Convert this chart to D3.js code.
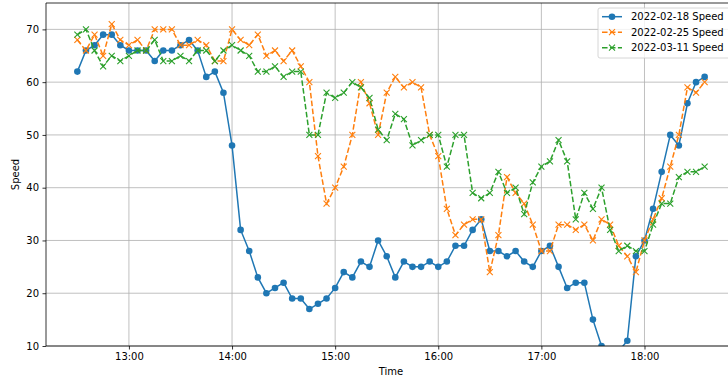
<!DOCTYPE html>
<html>
<head>
<meta charset="utf-8">
<script src="https://cdn.jsdelivr.net/npm/d3@7"></script>
<style>
  html, body { margin: 0; padding: 0; background: #fff; }
  svg { display: block; font-family: "DejaVu Sans", sans-serif; }
</style>
</head>
<body>
<svg id="chart" width="728" height="380"></svg>
<script>
const times = [
  '12:30','12:35','12:40','12:45','12:50','12:55',
  '13:00','13:05','13:10','13:15','13:20','13:25','13:30','13:35','13:40','13:45','13:50','13:55',
  '14:00','14:05','14:10','14:15','14:20','14:25','14:30','14:35','14:40','14:45','14:50','14:55',
  '15:00','15:05','15:10','15:15','15:20','15:25','15:30','15:35','15:40','15:45','15:50','15:55',
  '16:00','16:05','16:10','16:15','16:20','16:25','16:30','16:35','16:40','16:45','16:50','16:55',
  '17:00','17:05','17:10','17:15','17:20','17:25','17:30','17:35','17:40','17:45','17:50','17:55',
  '18:00','18:05','18:10','18:15','18:20','18:25','18:30','18:35'
];

const speed0218 = [
  62,66,67,69,69,67,
  66,66,66,64,66,66,67,68,66,61,62,58,
  48,32,28,23,20,21,22,19,19,17,18,19,
  21,24,23,26,25,30,27,23,26,25,25,26,
  25,26,29,29,32,34,28,28,27,28,26,25,
  28,29,25,21,22,22,15,10,8,9,11,27,
  30,36,43,50,48,56,60,61
];

const speed0225 = [
  68,66,69,65,71,68,
  67,68,66,70,70,70,67,67,68,67,64,64,
  70,68,67,69,65,66,64,66,63,60,46,37,
  40,44,50,60,56,50,58,61,59,60,59,50,
  46,36,31,33,34,34,24,31,42,39,37,33,
  28,28,33,33,32,33,30,34,33,29,27,24,
  30,34,38,44,50,59,58,60
];

const speed0311 = [
  69,70,66,63,65,64,
  65,66,66,68,64,64,65,64,66,66,64,66,
  67,66,65,62,62,63,61,62,62,50,50,58,
  57,58,60,59,57,51,49,54,53,48,49,50,
  50,44,50,50,39,38,39,43,39,40,35,41,
  44,45,49,45,34,39,36,40,32,28,29,28,
  28,33,37,37,42,43,43,44
];

const xTicks = ['13:00','14:00','15:00','16:00','17:00','18:00'];
const yTicks = [10, 20, 30, 40, 50, 60, 70];

(function drawChart() {
  const series = [
    {name: '2022-02-18 Speed', values: speed0218, color: '#1f77b4', dash: null, marker: 'o'},
    {name: '2022-02-25 Speed', values: speed0225, color: '#ff7f0e', dash: '5.55 2.4', marker: 'x'},
    {name: '2022-03-11 Speed', values: speed0311, color: '#2ca02c', dash: '5.55 2.4', marker: 'x'}
  ];

  const parseT = d3.timeParse('%H:%M');
  const tDates = times.map(parseT);

  const pl = 46, pr = 736, pt = 3, pb = 346;
  const svg = d3.select('#chart');

  // matplotlib style 5% margin around the data range
  const t0 = tDates[0], t1 = tDates[tDates.length - 1];
  const pad = (t1 - t0) * 0.05;
  const x = d3.scaleTime()
    .domain([new Date(+t0 - pad), new Date(+t1 + pad)])
    .range([pl, pr]);
  const y = d3.scaleLinear().domain([10, 75]).range([pb, pt]);

  svg.append('defs').append('clipPath').attr('id', 'plotclip')
    .append('rect').attr('x', pl).attr('y', pt)
    .attr('width', pr - pl).attr('height', pb - pt);

  // grid
  const grid = svg.append('g');
  grid.selectAll('.vg').data(xTicks.map(parseT)).enter().append('line')
    .attr('x1', d => x(d)).attr('x2', d => x(d))
    .attr('y1', pt).attr('y2', pb)
    .attr('stroke', '#b0b0b0').attr('stroke-width', 0.8);
  grid.selectAll('.hg').data(yTicks).enter().append('line')
    .attr('x1', pl).attr('x2', pr)
    .attr('y1', d => y(d)).attr('y2', d => y(d))
    .attr('stroke', '#b0b0b0').attr('stroke-width', 0.8);

  // axes
  const xAxis = d3.axisBottom(x).tickValues(xTicks.map(parseT))
    .tickFormat(d3.timeFormat('%H:%M')).tickSize(3.5).tickPadding(3.5);
  const gx = svg.append('g').attr('transform', `translate(0,${pb})`).call(xAxis);
  const yAxis = d3.axisLeft(y).tickValues(yTicks).tickSize(3.5).tickPadding(3.5);
  const gy = svg.append('g').attr('transform', `translate(${pl},0)`).call(yAxis);
  [gx, gy].forEach(g => {
    g.select('.domain').remove();
    g.selectAll('.tick line').attr('stroke', '#000').attr('stroke-width', 0.8);
    g.selectAll('.tick text').attr('fill', '#000').attr('font-size', 10)
      .attr('font-family', '"DejaVu Sans", sans-serif');
  });

  // data
  const plot = svg.append('g').attr('clip-path', 'url(#plotclip)');
  const line = d3.line().x((d, i) => x(tDates[i])).y(d => y(d));

  function drawMarker(g, kind, color, cx, cy) {
    if (kind === 'o') {
      g.append('circle').attr('cx', cx).attr('cy', cy).attr('r', 3.3).attr('fill', color);
    } else {
      const s = 3;
      g.append('path')
        .attr('d', `M${cx - s},${cy - s}L${cx + s},${cy + s}M${cx - s},${cy + s}L${cx + s},${cy - s}`)
        .attr('stroke', color).attr('stroke-width', 1.1).attr('fill', 'none');
    }
  }

  series.forEach(s => {
    plot.append('path').datum(s.values)
      .attr('d', line)
      .attr('fill', 'none')
      .attr('stroke', s.color)
      .attr('stroke-width', 1.5)
      .attr('stroke-dasharray', s.dash);
    const mg = plot.append('g');
    s.values.forEach((v, i) => drawMarker(mg, s.marker, s.color, x(tDates[i]), y(v)));
  });

  // spines
  svg.append('line').attr('x1', pl).attr('x2', pl).attr('y1', pt).attr('y2', pb)
    .attr('stroke', '#000').attr('stroke-width', 0.8);
  svg.append('line').attr('x1', pl).attr('x2', pr).attr('y1', pb).attr('y2', pb)
    .attr('stroke', '#000').attr('stroke-width', 0.8);
  svg.append('line').attr('x1', pl).attr('x2', pr).attr('y1', pt).attr('y2', pt)
    .attr('stroke', '#000').attr('stroke-width', 0.8);

  // labels
  svg.append('text').attr('x', (pl + pr) / 2).attr('y', 375)
    .attr('text-anchor', 'middle').attr('font-size', 10).text('Time');
  svg.append('text').attr('transform', `translate(19,${(pt + pb) / 2}) rotate(-90)`)
    .attr('text-anchor', 'middle').attr('font-size', 10).text('Speed');

  // legend
  const lg = svg.append('g');
  lg.append('rect').attr('x', 598).attr('y', 8).attr('width', 134).attr('height', 50)
    .attr('rx', 2).attr('fill', '#fff').attr('fill-opacity', 0.8)
    .attr('stroke', '#cccccc').attr('stroke-width', 0.8);
  series.forEach((s, i) => {
    const cy = 16.7 + i * 15.5;
    lg.append('line').attr('x1', 602).attr('x2', 622).attr('y1', cy).attr('y2', cy)
      .attr('stroke', s.color).attr('stroke-width', 1.5).attr('stroke-dasharray', s.dash);
    drawMarker(lg, s.marker, s.color, 612, cy);
    lg.append('text').attr('x', 631).attr('y', cy + 3.6).attr('font-size', 10)
      .attr('fill', '#000').text(s.name);
  });
})();
</script>
</body>
</html>
